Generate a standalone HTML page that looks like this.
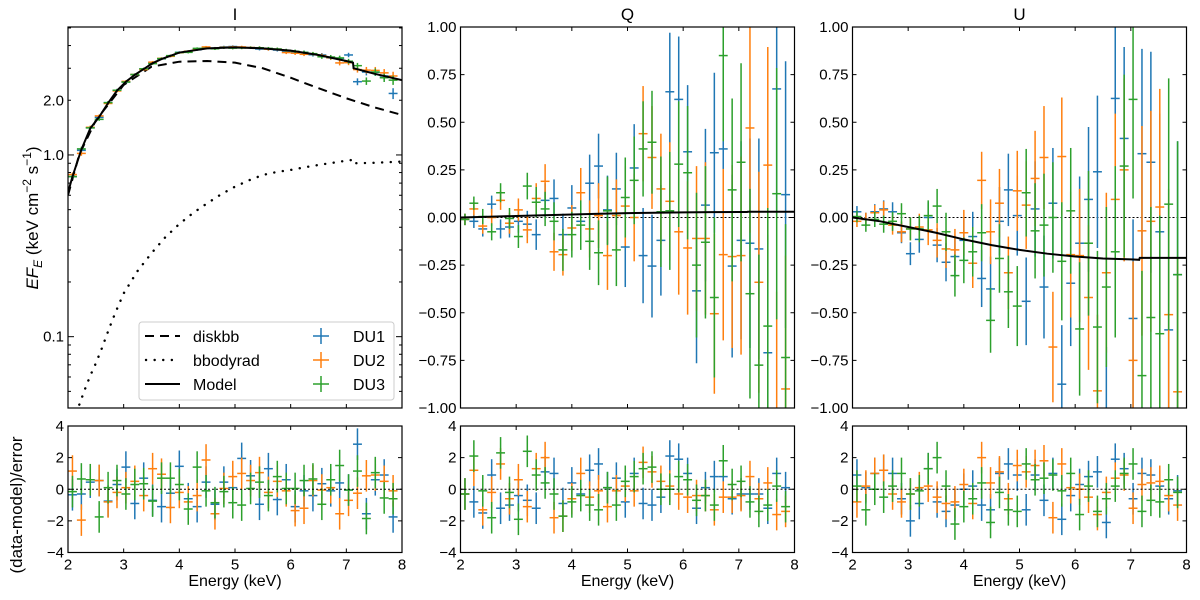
<!DOCTYPE html>
<html><head><meta charset="utf-8"><style>
html,body{margin:0;padding:0;background:#fff;}
svg{display:block;font-family:"Liberation Sans","DejaVu Sans",sans-serif;}
</style></head><body>
<svg id="fig" width="1200" height="600" viewBox="0 0 1200 600" xmlns="http://www.w3.org/2000/svg"></svg>
<script>
// ---- data ----
const binCenters=[2.08,2.24,2.40,2.56,2.72,2.88,3.04,3.20,3.36,3.52,3.68,3.84,4.00,4.16,4.32,4.48,4.64,4.80,4.96,5.12,5.28,5.44,5.60,5.76,5.92,6.08,6.24,6.40,6.56,6.72,6.88,7.04,7.20,7.36,7.52,7.68,7.84];
const modelE=[2.0,2.08,2.24,2.4,2.56,2.72,2.88,3.04,3.2,3.36,3.52,3.68,4.0,4.5,5.0,5.5,6.0,6.5,7.0,7.12,7.13,7.5,8.0];
const modelI=[0.62,0.76,1.07,1.40,1.62,1.93,2.26,2.53,2.76,2.97,3.20,3.37,3.66,3.86,3.91,3.86,3.75,3.55,3.29,3.22,3.0,2.80,2.58];
const diskE=[2.0,2.2,2.5,3.0,3.5,4.0,4.5,5.0,5.5,6.0,6.5,7.0,7.5,8.0];
const diskbb=[0.60,1.0,1.55,2.43,3.06,3.26,3.29,3.22,3.0,2.66,2.33,2.05,1.83,1.66];
const bbE=[2.0,2.1,2.2,2.3,2.4,2.5,2.6,2.7,2.8,2.9,3.0,3.25,3.5,3.75,4.0,4.25,4.5,4.75,5.0,5.25,5.5,5.75,6.0,6.25,6.5,6.75,7.0,7.12,7.13,7.5,8.0];
const bbodyrad=[0.028,0.034,0.042,0.051,0.061,0.0714,0.085,0.103,0.124,0.147,0.173,0.23,0.288,0.353,0.417,0.48,0.542,0.607,0.669,0.725,0.776,0.806,0.827,0.855,0.881,0.905,0.93,0.94,0.90,0.905,0.92];
const iDU1=[0.76,1.06,1.41,1.61,1.94,2.27,2.52,2.77,2.98,3.21,3.38,3.50,3.67,3.71,3.79,3.87,3.87,3.93,3.95,3.90,3.90,3.83,3.82,3.78,3.72,3.70,3.67,3.56,3.55,3.42,3.40,3.55,2.53,2.86,2.85,2.72,2.18];
const iDU2=[0.78,1.02,1.42,1.64,1.92,2.25,2.54,2.77,2.95,3.24,3.40,3.49,3.65,3.72,3.82,3.93,3.86,3.91,3.93,3.93,3.90,3.89,3.82,3.82,3.66,3.63,3.58,3.60,3.52,3.43,3.21,3.22,2.95,2.93,2.92,2.83,2.72];
const iDU3=[0.76,1.08,1.41,1.57,1.94,2.27,2.52,2.77,2.98,3.18,3.39,3.52,3.66,3.67,3.86,3.86,3.84,3.89,3.87,3.88,3.89,3.89,3.86,3.83,3.77,3.72,3.67,3.61,3.47,3.46,3.42,3.28,3.10,2.55,2.86,2.66,2.58];
const iErr=[0.02,0.03,0.03,0.03,0.04,0.04,0.04,0.04,0.04,0.05,0.05,0.05,0.05,0.05,0.05,0.05,0.06,0.06,0.06,0.06,0.06,0.07,0.07,0.07,0.07,0.08,0.08,0.08,0.09,0.09,0.10,0.10,0.11,0.12,0.13,0.14,0.15];
const polErr=[0.03,0.035,0.04,0.045,0.05,0.055,0.06,0.07,0.08,0.09,0.10,0.11,0.12,0.13,0.15,0.17,0.18,0.19,0.21,0.23,0.25,0.27,0.29,0.31,0.33,0.35,0.38,0.40,0.42,0.45,0.48,0.52,0.55,0.58,0.62,0.66,0.70];
const qDU1=[-0.01,-0.02,-0.06,0.07,-0.06,-0.05,-0.02,-0.035,-0.09,0.09,0.10,-0.09,0.05,-0.02,0.18,0.27,0.04,0.15,-0.155,0.26,-0.20,-0.255,-0.12,0.66,0.62,0.345,-0.385,0.065,0.34,0.36,-0.255,-0.12,-0.135,-0.165,-0.71,0.675,0.12];
const qDU2=[-0.01,0.045,-0.045,0.0,0.09,-0.03,0.04,-0.065,0.10,0.19,-0.18,-0.195,-0.055,0.13,-0.06,0.01,-0.20,0.01,0.06,0.0,0.44,0.315,0.15,0.085,-0.075,-0.16,-0.11,-0.11,-0.505,-0.195,-0.205,-0.20,0.47,-0.34,0.275,-1.05,-0.9];
const qDU3=[-0.01,0.075,0.005,-0.075,0.13,-0.005,-0.10,0.165,0.08,0.045,-0.02,-0.17,-0.09,-0.04,-0.125,-0.185,0.035,-0.17,0.105,0.195,0.36,0.395,0.03,0.035,0.28,0.235,-0.25,-0.13,-0.42,0.85,0.145,0.29,-0.40,-0.775,-0.57,0.125,-0.735];
const modelQ=[0.0,0.004,0.008,0.012,0.016,0.02,0.023,0.025,0.027,0.028,0.029,0.029,0.03,0.03];
const polModelE=[2.0,2.5,3.0,3.5,4.0,4.5,5.0,5.5,6.0,6.5,7.0,7.15,7.16,8.0];
const uDU1=[0.03,-0.01,0.03,0.045,0.03,-0.08,-0.19,-0.115,0.0,-0.145,-0.235,-0.205,-0.12,-0.10,-0.32,-0.375,-0.02,0.145,0.01,-0.44,0.045,-0.365,0.075,-0.875,-0.345,-0.135,0.095,0.24,-1.1,0.625,0.415,-0.53,0.335,0.29,-0.075,-0.59,-0.3];
const uDU2=[-0.02,-0.01,0.025,0.04,-0.04,-0.075,-0.06,-0.05,-0.065,-0.12,-0.165,-0.17,-0.08,-0.24,0.195,-0.075,0.075,-0.29,0.14,0.065,0.205,0.315,-0.68,0.32,-0.195,-0.20,-0.42,-0.91,-0.29,0.095,0.25,-0.75,-0.07,-0.02,0.055,-0.51,-0.915];
const uDU3=[0.005,-0.04,-0.01,-0.035,-0.02,0.02,-0.06,-0.06,0.01,0.06,-0.075,-0.305,-0.225,-0.18,-0.08,-0.54,-0.215,-0.39,-0.465,0.13,-0.07,-0.04,0.0,-0.23,0.035,-0.585,-0.135,-0.575,-0.365,-0.18,0.27,0.62,-0.83,-0.525,-0.61,0.07,-0.3];
const modelU=[0.0,-0.02,-0.05,-0.08,-0.115,-0.145,-0.17,-0.19,-0.205,-0.215,-0.22,-0.222,-0.212,-0.212];
const rI1=[-0.35,-0.3,0.45,0.55,-0.75,0.3,1.4,-0.9,0.7,-0.7,-1.1,-0.25,1.45,-0.6,-1.1,0.45,-0.95,0.45,0.1,1.95,0.85,-0.95,1.3,-0.65,0.6,-1.1,-0.1,-0.4,0.35,-0.1,0.4,-0.05,2.85,-1.55,0.6,0.9,-1.75];
const rI2=[1.15,-1.95,0.6,0.55,-0.8,-0.2,0.1,0.5,-0.4,1.3,0.95,-1.15,-0.2,-0.8,-0.4,1.85,-1.55,0.05,0.8,1.0,0.55,1.05,-0.2,0.5,-0.1,-1.35,-1.2,0.55,-0.05,0.1,-1.55,-0.7,-0.25,0.85,0.9,0.5,-0.1];
const rI3=[-0.15,0.65,0.6,-1.75,0.1,0.55,-0.3,0.3,0.35,-0.75,0.7,0.7,0.3,-1.25,1.4,-0.1,-0.85,-0.15,-0.85,-1.0,0.05,0.45,-0.4,0.8,0.05,0.05,0.55,0.65,-0.95,0.6,1.5,-0.05,1.15,-1.85,1.05,-0.55,-0.6];
const rQ1=[-0.3,-0.8,-1.5,0.9,-1.2,-1.0,-0.4,-0.7,-1.2,1.1,1.0,-0.9,0.4,-0.3,1.2,1.6,0.1,0.7,-0.8,1.0,-0.9,-1.0,-0.5,2.1,1.9,1.0,-1.2,0.1,0.8,0.8,-0.6,-0.3,-0.3,-0.3,-1.2,1.0,0.1];
const rQ2=[-0.3,1.2,-1.3,-0.2,1.6,-0.6,0.6,-1.1,1.3,2.0,-1.8,-1.7,-0.6,1.0,-0.5,-0.1,-1.1,-0.1,0.2,-0.1,1.7,1.1,0.5,0.2,-0.3,-0.5,-0.4,-0.4,-1.3,-0.5,-0.5,-0.4,0.8,-0.6,0.4,-1.6,-1.4];
const rQ3=[-0.3,2.1,-0.1,-1.8,2.3,-0.2,-1.9,2.4,0.9,0.4,-0.3,-1.7,-0.8,-0.4,-1.0,-1.3,0.1,-1.0,0.5,0.8,1.3,1.4,0.0,0.0,0.8,0.6,-0.7,-0.4,-1.0,1.8,0.3,0.5,-0.8,-1.4,-1.0,0.2,-1.1];
const rU1=[0.9,0.1,1.0,1.2,1.0,-0.6,-2.0,-0.9,1.3,-0.8,-1.4,-1.0,0.0,0.2,-1.0,-1.3,1.0,1.6,0.9,-1.3,0.9,-0.7,1.0,-1.9,-0.4,0.3,0.8,1.1,-2.1,1.9,1.3,-0.6,1.0,0.9,0.2,-0.6,-0.1];
const rU2=[-0.8,0.2,1.0,1.2,-0.3,-0.8,-0.3,0.1,0.2,-0.5,-0.9,-0.8,0.3,-0.9,2.0,0.4,1.1,-0.6,1.5,1.1,1.5,1.8,-1.8,1.6,0.1,0.0,-0.5,-1.6,-0.2,0.7,0.9,-1.2,0.3,0.4,0.5,-0.4,-1.0];
const rU3=[0.2,-1.3,0.0,-0.5,0.2,1.0,-0.3,-0.1,1.3,2.0,0.2,-2.2,-1.1,-0.6,0.4,-2.1,-0.2,-1.3,-1.4,1.6,0.6,0.7,0.9,-0.1,1.0,-1.6,0.2,-1.4,-0.6,0.2,1.0,1.6,-1.4,-0.7,-0.8,0.6,-0.2];
const colors=["#1f77b4","#ff7f0e","#2ca02c"];
const detNames=["DU1","DU2","DU3"];
const xTicks=[2,3,4,5,6,7,8];
const polTicks=[-1,-0.75,-0.5,-0.25,0,0.25,0.5,0.75,1];
const resTicks=[-4,-2,0,2,4];

// ---- layout ----
const NS="http://www.w3.org/2000/svg";
const svg=document.getElementById('fig');
const lefts=[68,460.5,852.5], W=334;
const topY0=27, topY1=408, botY0=426, botY1=552.5;
const TF=15;
function el(tag,attrs,parent){const e=document.createElementNS(NS,tag);for(const k in attrs)e.setAttribute(k,attrs[k]);(parent||svg).appendChild(e);return e;}
function txt(s,x,y,anchor,size,parent){const t=el('text',{x:x,y:y,'text-anchor':anchor||'middle','font-size':size||TF,fill:'#000'},parent);t.textContent=s;return t;}
function xs(L){return E=>L+(E-2)/6*W;}
const lmax=Math.log10(5.06), lmin=Math.log10(0.0405);
function yLog(v){return topY0+(lmax-Math.log10(v))/(lmax-lmin)*(topY1-topY0);}
function yLin(a,b,y0,y1){return v=>y0+(b-v)/(b-a)*(y1-y0);}
const yPol=yLin(-1,1,topY0,topY1), yRes=yLin(-4,4,botY0,botY1);

const defs=el('defs',{});
function clip(id,x,y,w,h){const c=el('clipPath',{id:id},defs);el('rect',{x:x,y:y,width:w,height:h},c);}
lefts.forEach((L,i)=>{clip('ct'+i,L,topY0,W,topY1-topY0);clip('cb'+i,L,botY0,W,botY1-botY0);});

function frame(L,y0,y1,name){const r=el('rect',{x:L,y:y0,width:W,height:y1-y0,fill:'none',stroke:'#000','stroke-width':1.2});}
function xTickMarks(L,y0,y1,labels,g){const X=xs(L);xTicks.forEach(t=>{const x=X(t);el('line',{x1:x,x2:x,y1:y1,y2:y1-4,stroke:'#000','stroke-width':1},g);el('line',{x1:x,x2:x,y1:y0,y2:y0+4,stroke:'#000','stroke-width':1},g);if(labels){const tl=txt(String(t),x,y1+17,'middle',TF,g);}});}
function yTickMarks(L,ticks,yf,fmt,g,len){ticks.forEach(t=>{const y=yf(t);el('line',{x1:L,x2:L+(len||4),y1:y,y2:y,stroke:'#000','stroke-width':1},g);el('line',{x1:L+W,x2:L+W-(len||4),y1:y,y2:y,stroke:'#000','stroke-width':1},g);if(fmt){const tl=txt(fmt(t),L-4,y+5,'end',TF,g);}});}
function pathFrom(xArr,yArr,X,Y){return xArr.map((e,i)=>(i?'L':'M')+X(e).toFixed(2)+','+Y(yArr[i]).toFixed(2)).join(' ');}
function errorSeries(g,X,Y,vals,errs,color,name){const s=el('g',{},g);
 binCenters.forEach((E,i)=>{const v=vals[i];if(v===undefined)return;const e=errs[i];const x=X(E);
  if(Y===yLog){const lo=Math.max(v-e,0.001);el('line',{x1:x,x2:x,y1:Y(v+e),y2:Y(lo),stroke:color,'stroke-width':1.5},s);}
  else el('line',{x1:x,x2:x,y1:Y(v+e),y2:Y(v-e),stroke:color,'stroke-width':1.5},s);
  el('line',{x1:X(E-0.08),x2:X(E+0.08),y1:Y(v),y2:Y(v),stroke:color,'stroke-width':1.5},s);});}
function zeroLine(g,L,Y){el('line',{x1:L,x2:L+W,y1:Y(0),y2:Y(0),stroke:'#000','stroke-width':1,'stroke-dasharray':'2,2'},g);}
const ones=binCenters.map(()=>1);

// ---- Panel I ----
{const L=lefts[0],X=xs(L);
 const g=el('g',{'clip-path':'url(#ct0)'});
 const d=el('path',{d:pathFrom(diskE,diskbb,X,yLog),fill:'none',stroke:'#000','stroke-width':2,'stroke-dasharray':'9,6'},g);
 const b=el('path',{d:pathFrom(bbE,bbodyrad,X,yLog),fill:'none',stroke:'#000','stroke-width':2.4,'stroke-dasharray':'0.1,8.5','stroke-linecap':'round'},g);
 [iDU1,iDU2,iDU3].forEach((a,k)=>errorSeries(g,X,yLog,a,iErr,colors[k],'i-'+detNames[k].toLowerCase()+'-points'));
 const m=el('path',{d:pathFrom(modelE,modelI,X,yLog),fill:'none',stroke:'#000','stroke-width':2},g);
 const ax=el('g',{});
 xTickMarks(L,topY0,topY1,false,ax);
 const minor=[0.05,0.06,0.07,0.08,0.09,0.2,0.3,0.4,0.5,0.6,0.7,0.8,0.9,2,3,4,5];
 yTickMarks(L,minor,yLog,null,ax,3);
 yTickMarks(L,[0.1,1],yLog,null,ax,6);
 [[0.1,'0.1'],[1,'1.0'],[2,'2.0']].forEach(p=>{const tl=txt(p[1],L-4,yLog(p[0])+5,'end',TF);});
 frame(L,topY0,topY1,'i-panel-frame');
 const t=txt('I',L+W/2,20,'middle',17);
 // legend
 const lg=el('g',{});
 el('rect',{x:139,y:322,width:255,height:78,rx:3,fill:'#fff','fill-opacity':0.8,stroke:'#ccc','stroke-width':1},lg);
 const ly=[336,360,384];
 el('line',{x1:145,x2:180,y1:ly[0],y2:ly[0],stroke:'#000','stroke-width':2,'stroke-dasharray':'9,6'},lg);
 el('line',{x1:146,x2:180,y1:ly[1],y2:ly[1],stroke:'#000','stroke-width':2.4,'stroke-dasharray':'0.1,8.5','stroke-linecap':'round'},lg);
 el('line',{x1:145,x2:180,y1:ly[2],y2:ly[2],stroke:'#000','stroke-width':2},lg);
 ['diskbb','bbodyrad','Model'].forEach((s,i)=>{const tl=txt(s,193,ly[i]+6,'start',16,lg);});
 detNames.forEach((s,i)=>{el('line',{x1:321,x2:321,y1:ly[i]-8,y2:ly[i]+8,stroke:colors[i],'stroke-width':1.5},lg);el('line',{x1:313,x2:329,y1:ly[i],y2:ly[i],stroke:colors[i],'stroke-width':1.5},lg);const tl=txt(s,353,ly[i]+6,'start',16,lg);});
}
// ---- Panels Q, U ----
[[1,'Q',[qDU1,qDU2,qDU3],modelQ],[2,'U',[uDU1,uDU2,uDU3],modelU]].forEach(p=>{
 const [i,name,ser,mod]=p;const L=lefts[i],X=xs(L);
 const g=el('g',{'clip-path':'url(#ct'+i+')'});
 zeroLine(g,L,yPol);
 ser.forEach((a,k)=>errorSeries(g,X,yPol,a,polErr,colors[k],name.toLowerCase()+'-'+detNames[k].toLowerCase()+'-points'));
 const m=el('path',{d:pathFrom(polModelE,mod,X,yPol),fill:'none',stroke:'#000','stroke-width':2},g);
 const ax=el('g',{});
 xTickMarks(L,topY0,topY1,false,ax);
 yTickMarks(L,polTicks,yPol,t=>(t<0?'\u2212':'')+Math.abs(t).toFixed(2),ax,4);
 frame(L,topY0,topY1,name.toLowerCase()+'-panel-frame');
 const t=txt(name,L+W/2,20,'middle',17);
});
// ---- Residual panels ----
[[rI1,rI2,rI3],[rQ1,rQ2,rQ3],[rU1,rU2,rU3]].forEach((ser,i)=>{
 const L=lefts[i],X=xs(L);
 const g=el('g',{'clip-path':'url(#cb'+i+')'});
 ser.forEach((a,k)=>errorSeries(g,X,yRes,a,ones,colors[k],'residual-'+detNames[k].toLowerCase()+'-points'));
 zeroLine(g,L,yRes);
 const ax=el('g',{});
 xTickMarks(L,botY0,botY1,true,ax);
 yTickMarks(L,resTicks,yRes,t=>(t<0?'\u2212':'')+Math.abs(t),ax,4);
 frame(L,botY0,botY1,'residual-panel-frame');
 const xl=txt('Energy (keV)',L+W/2,586,'middle',16);
});
// y labels
{const t=el('text',{x:0,y:0,'font-size':17,'text-anchor':'middle',transform:'translate(38,218) rotate(-90)'});
 
 t.innerHTML='<tspan font-style="italic">EF</tspan><tspan font-style="italic" font-size="12" dy="4">E</tspan><tspan dy="-4"> (keV cm</tspan><tspan font-size="12" dy="-7">\u22122</tspan><tspan dy="7"> s</tspan><tspan font-size="12" dy="-7">\u22121</tspan><tspan dy="7">)</tspan>';
 const r=el('text',{x:0,y:0,'font-size':17,'text-anchor':'middle',transform:'translate(22,505) rotate(-90)'});
 r.textContent='(data-model)/error';}
</script>
</body></html>
